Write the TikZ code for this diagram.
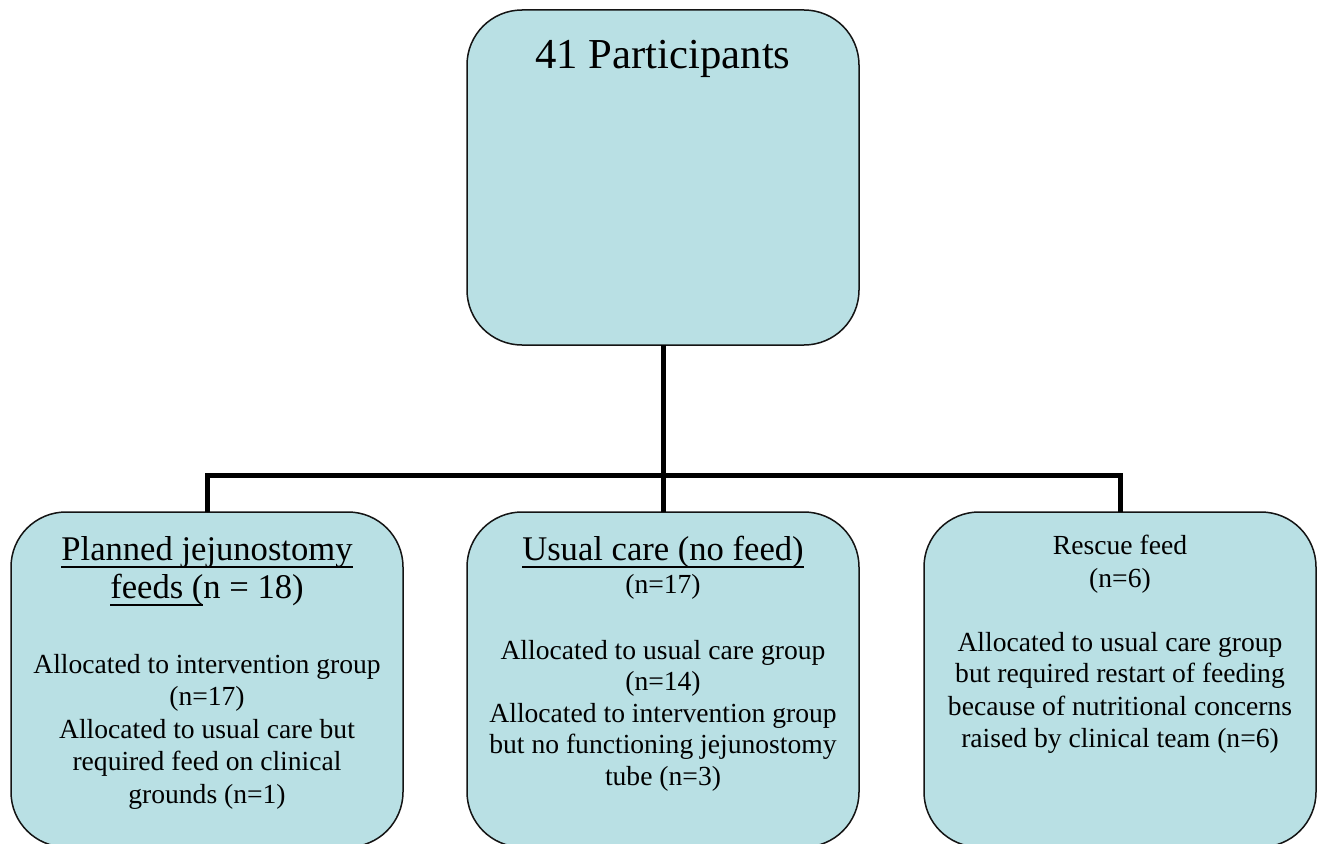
\documentclass[tikz,border=0pt]{standalone}
\usepackage{fontspec}
\setmainfont{Liberation Serif}
\newsavebox\ulbox
\newcommand\myul[1]{\sbox\ulbox{#1}\rlap{\rule[-7.8pt]{\wd\ulbox}{1.7pt}}\usebox\ulbox}
\definecolor{boxfill}{RGB}{185,224,228}
\definecolor{boxline}{RGB}{20,20,20}
\tikzset{
  flowbox/.style={draw=boxline, line width=1.5pt, fill=boxfill, rounded corners=55pt,
    minimum width=392pt, minimum height=335pt, inner sep=0pt, outer sep=0pt},
  conn/.style={line width=5pt, draw=black, line join=miter},
  big/.style={anchor=base, inner sep=0pt, font=\fontsize{42.7}{49}\selectfont},
  mid/.style={anchor=base, inner sep=0pt, font=\fontsize{34.6}{40}\selectfont},
  small/.style={anchor=base, inner sep=0pt, font=\fontsize{27.6}{32}\selectfont}
}
\begin{document}
\begin{tikzpicture}[x=1pt,y=-1pt]
\useasboundingbox (0,0) rectangle (1322,843);
\clip (0,0) rectangle (1322,843);
\fill[white] (0,0) rectangle (1322,843);
% boxes
\node[flowbox] (top) at (663,177.5) {};
\node[flowbox] (left) at (207,679.5) {};
\node[flowbox] (center) at (663,679.5) {};
\node[flowbox] (right) at (1120,679.5) {};
% connectors
\coordinate (bus) at (0,475);
\draw[conn] (top.south) -- (top.south |- bus);
\draw[conn] (left.north) -- (left.north |- bus) -- (right.north |- bus) -- (right.north);
\draw[conn] (center.north) -- (center.north |- bus);
% top text
\node[big] (ttop) at (663,68) {41 Participants};
% left texts
\node[mid] (l1) at (207,560) {\myul{Planned jejunostomy}};
\node[mid] (l2) at (207,598) {\myul{feeds (}n = 18)};
\node[small] (l3) at (207,673) {Allocated to intervention group};
\node[small] (l4) at (207,705) {(n=17)};
\node[small] (l5) at (207,738) {Allocated to usual care but};
\node[small] (l6) at (207,770) {required feed on clinical};
\node[small] (l7) at (207,803) {grounds (n=1)};
% middle texts
\node[mid] (m1) at (663,560) {\myul{Usual care (no feed)}};
\node[small] (m2) at (663,593) {(n=17)};
\node[small] (m3) at (663,659) {Allocated to usual care group};
\node[small] (m4) at (663,690) {(n=14)};
\node[small] (m5) at (663,722) {Allocated to intervention group};
\node[small] (m6) at (663,753) {but no functioning jejunostomy};
\node[small] (m7) at (663,785) {tube (n=3)};
% right texts
\node[small] (r1) at (1120,554) {Rescue feed};
\node[small] (r2) at (1120,587) {(n=6)};
\node[small] (r3) at (1120,651) {Allocated to usual care group};
\node[small] (r4) at (1120,682) {but required restart of feeding};
\node[small] (r5) at (1120,715) {because of nutritional concerns};
\node[small] (r6) at (1120,747) {raised by clinical team (n=6)};
\end{tikzpicture}
\end{document}
